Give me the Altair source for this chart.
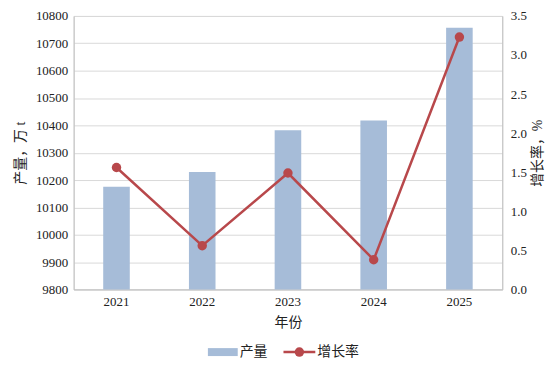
import altair as alt
import pandas as pd

years = ["2021", "2022", "2023", "2024", "2025"]
output = [10175, 10229, 10382, 10418, 10757]
growth = [1.56, 0.56, 1.49, 0.38, 3.23]
left_ticks = [9800, 9900, 10000, 10100, 10200, 10300, 10400, 10500, 10600, 10700, 10800]
right_ticks = [0.0, 0.5, 1.0, 1.5, 2.0, 2.5, 3.0, 3.5]
legend_labels = ["产量", "增长率"]

df = pd.DataFrame({"year": years, "output": output, "growth": growth})

FONT = "'Liberation Serif', 'Noto Sans CJK SC', serif"
BAR = "#a6bcd8"
LINE = "#b8484b"

xenc = alt.X("year:N", title="年份",
             scale=alt.Scale(paddingInner=0.69, paddingOuter=0.345),
             axis=alt.Axis(labelAngle=0, labelPadding=6, titlePadding=7, ticks=False,
                           domainColor="#bfbfbf", labelFontSize=13, titleFontSize=14,
                           labelFont=FONT, titleFont=FONT, titleFontWeight="normal",
                           labelColor="#222", titleColor="#222"))

bars = alt.Chart(df).mark_bar(color=BAR, clip=True).encode(
    x=xenc,
    y=alt.Y("output:Q", title="产量，万 t",
            scale=alt.Scale(domain=[9800, 10800], nice=False, zero=False),
            axis=alt.Axis(values=left_ticks, format="d", grid=True, gridColor="#d9d9d9", ticks=False,
                          domainColor="#bfbfbf", labelFontSize=13, titleFontSize=14,
                          labelFont=FONT, titleFont=FONT, titleFontWeight="normal",
                          labelColor="#222", titleColor="#222", labelPadding=6, titlePadding=8)),
)

line_y = alt.Y("growth:Q", title="增长率，%",
               scale=alt.Scale(domain=[0, 3.5], nice=False),
               axis=alt.Axis(values=right_ticks, format=".1f", orient="right", grid=False,
                             ticks=False, domainColor="#bfbfbf", labelFontSize=13,
                             titleFontSize=14, labelFont=FONT, titleFont=FONT,
                             titleFontWeight="normal", labelColor="#222", titleColor="#222",
                             labelPadding=8, titlePadding=4, titleAngle=270,
                             titleBaseline="top"))

line = alt.Chart(df).mark_line(color=LINE, strokeWidth=2.5,
                               point=alt.OverlayMarkDef(color=LINE, size=90, filled=True, opacity=1)).encode(
    x=alt.X("year:N"),
    y=line_y,
)

leg_df = pd.DataFrame({"label": legend_labels})

LY = 338
leg_rect = alt.Chart(leg_df).transform_filter(alt.datum.label == legend_labels[0]).mark_rect(color=BAR).encode(
    x=alt.value(135), x2=alt.value(165), y=alt.value(LY - 4), y2=alt.value(LY + 4))
leg_text1 = alt.Chart(leg_df).transform_filter(alt.datum.label == legend_labels[0]).mark_text(
    align="left", baseline="middle", font=FONT, fontSize=14, color="#222").encode(
    x=alt.value(167), y=alt.value(LY), text="label:N")
leg_line = alt.Chart(leg_df).transform_filter(alt.datum.label == legend_labels[1]).mark_rule(
    color=LINE, strokeWidth=2.5).encode(
    x=alt.value(211), x2=alt.value(243), y=alt.value(LY))
leg_pt = alt.Chart(leg_df).transform_filter(alt.datum.label == legend_labels[1]).mark_point(
    color=LINE, filled=True, size=90, opacity=1).encode(
    x=alt.value(227), y=alt.value(LY))
leg_text2 = alt.Chart(leg_df).transform_filter(alt.datum.label == legend_labels[1]).mark_text(
    align="left", baseline="middle", font=FONT, fontSize=14, color="#222").encode(
    x=alt.value(245), y=alt.value(LY), text="label:N")

chart = alt.layer(bars, line, leg_rect, leg_text1, leg_line, leg_pt, leg_text2).resolve_scale(
    y="independent"
).properties(
    width=431, height=275,
    padding={"left": 5, "top": 1, "right": 5, "bottom": 5},
).configure_view(stroke="#d9d9d9").configure(background="white")

chart.save("out.html", embed_options={"renderer": "svg", "actions": False})
